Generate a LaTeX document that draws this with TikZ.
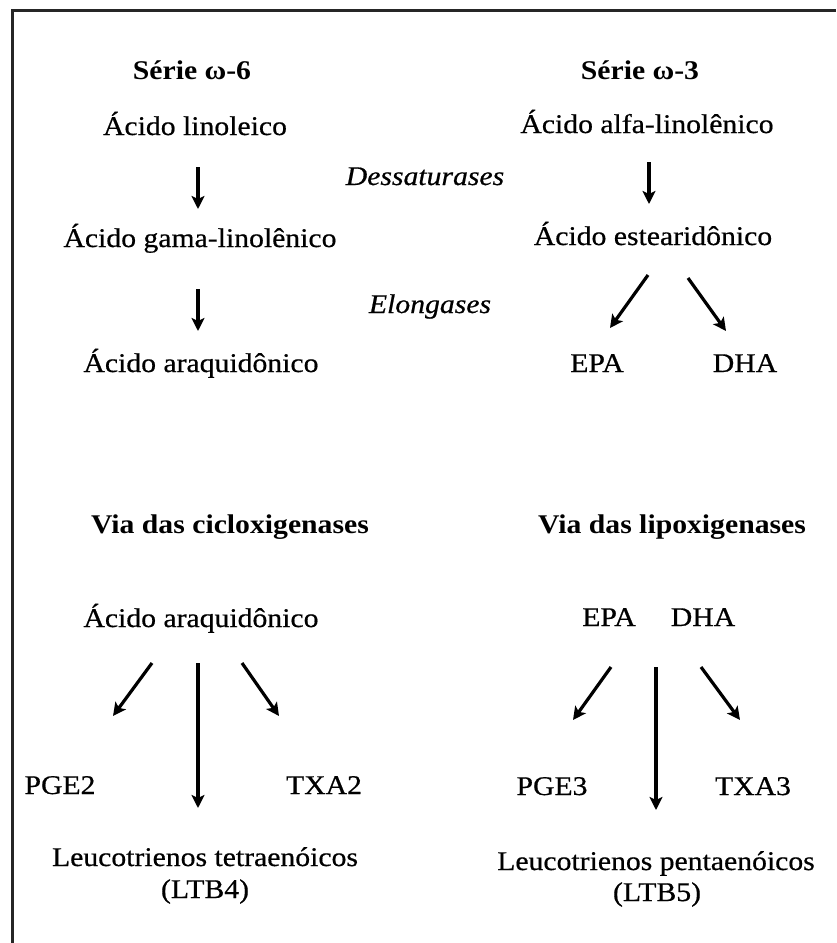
\documentclass[tikz,border=0pt]{standalone}
\usepackage{fontspec}
\setmainfont{Liberation Serif}[FakeStretch=1.1,UprightFeatures={FakeBold=0.6},ItalicFeatures={FakeBold=0.6}]
\usetikzlibrary{arrows.meta}
\begin{document}
\begin{tikzpicture}[x=1pt,y=-1pt,
  txt/.style={anchor=base,inner sep=0pt,font=\fontsize{27}{32}\selectfont},
  hdr/.style={txt,font=\fontsize{27}{32}\selectfont\bfseries},
  enz/.style={txt,font=\fontsize{27}{32}\selectfont\itshape},
  arr/.style={line width=3.2pt,-{Stealth[length=13pt,width=13pt,inset=3pt]}},
  frame/.style={line width=2.2pt,draw=black!85}]
\useasboundingbox (0,0) rectangle (836,943);
\coordinate (fbl) at (12.5,943);
\coordinate (ftl) at (12.5,10.5);
\coordinate (ftr) at (836,10.5);
\draw[frame] (fbl) -- (ftl) -- (ftr);

% omega-6 series
\node[hdr] (s6) at (192,79) {Série ω-6};
\node[txt] (lin) at (195,135) {Ácido linoleico};
\node[txt] (gla) at (200,247) {Ácido gama-linolênico};
\node[txt] (aa1) at (201,372) {Ácido araquidônico};
% omega-3 series
\node[hdr] (s3) at (640,79) {Série ω-3};
\node[txt] (ala) at (647,133) {Ácido alfa-linolênico};
\node[txt] (sda) at (653,245) {Ácido estearidônico};
\node[txt] (epa1) at (597,372) {EPA};
\node[txt] (dha1) at (745,372) {DHA};
% enzymes
\node[enz] (des) at (425,185) {Dessaturases};
\node[enz] (elo) at (430,313) {Elongases};

% arrows top
\coordinate (a1s) at (198,167); \coordinate (a1e) at (198,209);
\coordinate (a2s) at (198,289); \coordinate (a2e) at (198,331);
\coordinate (a3s) at (649,162); \coordinate (a3e) at (649,204);
\coordinate (a4s) at (648,275); \coordinate (a4e) at (610,328);
\coordinate (a5s) at (688,278); \coordinate (a5e) at (726,331);
\draw[arr] (a1s) -- (a1e);
\draw[arr] (a2s) -- (a2e);
\draw[arr] (a3s) -- (a3e);
\draw[arr] (a4s) -- (a4e);
\draw[arr] (a5s) -- (a5e);

% cyclooxygenase pathway
\node[hdr] (cox) at (230,533) {Via das cicloxigenases};
\node[txt] (aa2) at (201,627) {Ácido araquidônico};
\node[txt] (pge2) at (60,794) {PGE2};
\node[txt] (txa2) at (324,794) {TXA2};
\node[txt] (ltb4a) at (205,866) {Leucotrienos tetraenóicos};
\node[txt] (ltb4b) at (205,898) {(LTB4)};
\coordinate (b1s) at (152,663); \coordinate (b1e) at (113,716);
\coordinate (b2s) at (198,663); \coordinate (b2e) at (198,808);
\coordinate (b3s) at (242,663); \coordinate (b3e) at (279,716);
\draw[arr] (b1s) -- (b1e);
\draw[arr] (b2s) -- (b2e);
\draw[arr] (b3s) -- (b3e);

% lipoxygenase pathway
\node[hdr] (lox) at (672,533) {Via das lipoxigenases};
\node[txt] (epa2) at (609,626) {EPA};
\node[txt] (dha2) at (703,626) {DHA};
\node[txt] (pge3) at (552,795) {PGE3};
\node[txt] (txa3) at (753,795) {TXA3};
\node[txt] (ltb5a) at (656,870) {Leucotrienos pentaenóicos};
\node[txt] (ltb5b) at (657,901) {(LTB5)};
\coordinate (c1s) at (611,667); \coordinate (c1e) at (573,720);
\coordinate (c2s) at (656,667); \coordinate (c2e) at (656,810);
\coordinate (c3s) at (701,667); \coordinate (c3e) at (740,720);
\draw[arr] (c1s) -- (c1e);
\draw[arr] (c2s) -- (c2e);
\draw[arr] (c3s) -- (c3e);
\end{tikzpicture}
\end{document}
